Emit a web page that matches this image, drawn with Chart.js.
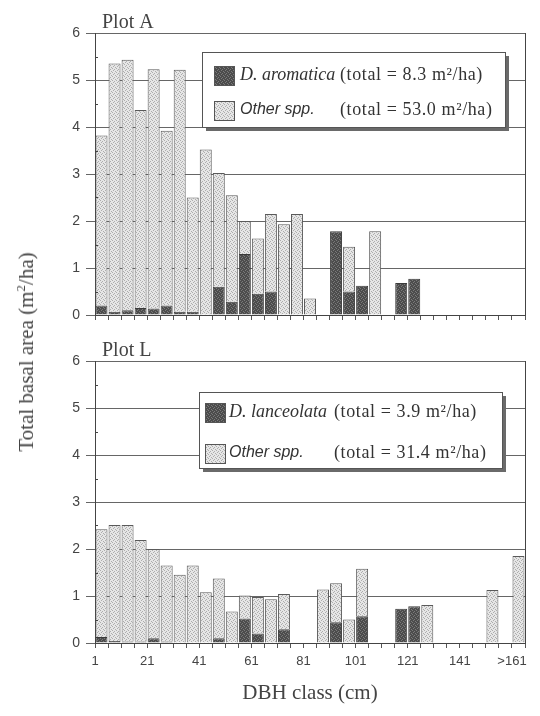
<!DOCTYPE html>
<html>
<head>
<meta charset="utf-8">
<script src="https://cdn.jsdelivr.net/npm/chart.js@4.4.1/dist/chart.umd.min.js"></script>
<style>
  html, body { margin: 0; padding: 0; background: #fff; }
  #wrap { position: relative; width: 540px; height: 716px; overflow: hidden; }
  #plotA { position: absolute; left: 0; top: 0; }
  #plotL { position: absolute; left: 0; top: 330px; }
  #ytitle {
    position: absolute; left: 26px; top: 352px;
    transform: translate(-50%, -50%) rotate(-90deg);
    font: 21px 'Liberation Serif', serif; color: #444; white-space: nowrap;
  }
  #ytitle sup { font-size: 13px; }
</style>
</head>
<body>
<div id="wrap">
  <canvas id="plotA" width="540" height="330"></canvas>
  <canvas id="plotL" width="540" height="386"></canvas>
  <div id="ytitle">Total basal area (m<sup>2</sup>/ha)</div>
</div>
<script>
'use strict';

// ── Data ─────────────────────────────────────────────────────
const classes = ['1', '6', '11', '16', '21', '26', '31', '36', '41', '46', '51',
  '56', '61', '66', '71', '76', '81', '86', '91', '96', '101', '106', '111',
  '116', '121', '126', '131', '136', '141', '146', '151', '156', '>161'];
const tickLabels = ['1', '21', '41', '61', '81', '101', '121', '141', '>161'];

// Plot A
const aromatica = [0.2, 0.07, 0.1, 0.15, 0.14, 0.2, 0.07, 0.07, 0, 0.6, 0.28,
  1.3, 0.45, 0.5, 0, 0, 0, 0, 1.78, 0.5, 0.62, 0, 0,
  0.68, 0.77, 0, 0, 0, 0, 0, 0, 0, 0];
const otherA = [3.62, 5.28, 5.33, 4.21, 5.09, 3.72, 5.15, 2.43, 3.52, 2.42, 2.27,
  0.7, 1.18, 1.65, 1.93, 2.15, 0.35, 0, 0, 0.95, 0, 1.78, 0,
  0, 0, 0, 0, 0, 0, 0, 0, 0, 0];
const totalsA = ['(total = 8.3 m\u00b2/ha)', '(total = 53.0 m\u00b2/ha)'];

// Plot L
const lanceolata = [0.13, 0.04, 0.03, 0.03, 0.1, 0.03, 0, 0, 0, 0.1, 0,
  0.52, 0.2, 0, 0.29, 0, 0, 0, 0.44, 0, 0.57, 0, 0,
  0.73, 0.78, 0, 0, 0, 0, 0, 0, 0, 0];
const otherL = [2.29, 2.47, 2.48, 2.16, 1.9, 1.62, 1.45, 1.65, 1.08, 1.27, 0.67,
  0.49, 0.78, 0.93, 0.75, 0, 0, 1.14, 0.83, 0.5, 1.01, 0, 0,
  0, 0, 0.81, 0, 0, 0, 0, 1.13, 0, 1.85];
const totalsL = ['(total = 3.9 m\u00b2/ha)', '(total = 31.4 m\u00b2/ha)'];

// ── Stipple fills (scanned halftone look) ────────────────────
function stipple(base, dot) {
  const c = document.createElement('canvas');
  c.width = 4; c.height = 4;
  const g = c.getContext('2d');
  g.fillStyle = base;
  g.fillRect(0, 0, 4, 4);
  g.fillStyle = dot;
  [[0, 0], [2, 1], [1, 2], [3, 3]].forEach(([x, y]) => g.fillRect(x, y, 1, 1));
  return g.createPattern(c, 'repeat');
}
const darkFill  = stipple('#4c4c4c', '#7a7a7a');
const lightFill = stipple('#e6e6e6', '#adadad');

const INK = '#444';

// ── Frame, minor ticks, plot title, legend box ───────────────
const decorations = {
  id: 'decorations',
  afterDraw(chart, args, o) {
    const { ctx, chartArea: a, scales: { y } } = chart;
    ctx.save();
    ctx.strokeStyle = INK;
    ctx.lineWidth = 1;

    ctx.beginPath();
    ctx.moveTo(a.right + 0.5, a.top);
    ctx.lineTo(a.right + 0.5, a.bottom);
    for (let i = 0; i < 6; i++) {
      const py = Math.round(y.getPixelForValue(i + 0.5)) + 0.5;
      ctx.moveTo(a.left, py);
      ctx.lineTo(a.left + 3, py);
    }
    ctx.stroke();

    ctx.fillStyle = INK;
    ctx.font = '20px "Liberation Serif"';
    ctx.textBaseline = 'alphabetic';
    ctx.fillText(o.title, a.left + 7, a.top - 5);

    const L = o.box;
    ctx.fillStyle = '#6a6a6a';
    ctx.fillRect(L.x + 4, L.y + 4, L.w, L.h);
    ctx.fillStyle = '#fff';
    ctx.fillRect(L.x, L.y, L.w, L.h);
    ctx.strokeStyle = '#555';
    ctx.strokeRect(L.x + 0.5, L.y + 0.5, L.w, L.h);

    ctx.textBaseline = 'middle';
    chart.data.datasets.forEach((ds, i) => {
      const cy = L.rows[i];
      ctx.fillStyle = ds.backgroundColor;
      ctx.fillRect(L.swX, cy - 9, 20, 19);
      ctx.strokeRect(L.swX + 0.5, cy - 8.5, 20, 19);
      ctx.fillStyle = '#333';
      ctx.letterSpacing = '0px';
      ctx.font = i === 0 ? 'italic 18px "Liberation Serif"' : 'italic 16px "Liberation Sans"';
      ctx.fillText(ds.label, L.textX, cy);
      ctx.font = '18px "Liberation Serif"';
      ctx.letterSpacing = '0.6px';
      ctx.fillText(o.totals[i], L.totalX, cy);
    });
    ctx.restore();
  }
};

// ── Chart builder ────────────────────────────────────────────
function makePlot(id, darkName, dark, other, cfg) {
  return new Chart(document.getElementById(id), {
    type: 'bar',
    data: {
      labels: classes,
      datasets: [
        { label: darkName, data: dark.map(v => v || null),
          backgroundColor: darkFill, borderColor: '#3a3a3a', borderWidth: 1 },
        { label: 'Other spp.', data: other.map(v => v || null),
          backgroundColor: lightFill, borderColor: '#5a5a5a', borderWidth: 1 }
      ]
    },
    options: {
      responsive: false,
      animation: false,
      layout: { padding: { top: cfg.padTop, right: 15, left: 0, bottom: 0 } },
      datasets: { bar: { categoryPercentage: 1, barPercentage: 0.92 } },
      plugins: {
        legend: { display: false },
        tooltip: { enabled: false },
        decorations: { title: cfg.title, box: cfg.box, totals: cfg.totals }
      },
      scales: {
        x: {
          stacked: true,
          offset: true,
          grid: { offset: true, drawOnChartArea: false, tickLength: 5, color: '#555' },
          border: { color: INK, width: 1 },
          ticks: {
            autoSkip: false, maxRotation: 0, padding: 6, labelOffset: -6.5,
            color: INK, font: { family: 'Liberation Sans', size: 13 },
            callback: (v, i) => (cfg.showLabels && tickLabels.includes(classes[i])) ? classes[i] : ''
          },
          title: {
            display: cfg.showLabels, text: 'DBH class (cm)', color: INK,
            font: { family: 'Liberation Serif', size: 21 }, padding: { top: 4, bottom: 10 }
          },
          afterFit: s => { s.height = cfg.xHeight; }
        },
        y: {
          stacked: true,
          min: 0, max: 6,
          grid: { color: '#666', tickLength: 9 },
          border: { color: INK, width: 1 },
          ticks: { stepSize: 1, padding: 6, color: INK, font: { family: 'Liberation Sans', size: 14 } },
          afterFit: s => { s.width = 95; }
        }
      }
    },
    plugins: [decorations]
  });
}

makePlot('plotA', 'D. aromatica', aromatica, otherA, {
  title: 'Plot A', padTop: 33, xHeight: 15, showLabels: false, totals: totalsA,
  box: { x: 202, y: 52, w: 303, h: 75, rows: [75, 110], swX: 214, textX: 240, totalX: 340 }
});

makePlot('plotL', 'D. lanceolata', lanceolata, otherL, {
  title: 'Plot L', padTop: 31, xHeight: 73, showLabels: true, totals: totalsL,
  box: { x: 199, y: 62, w: 303, h: 76, rows: [82, 123], swX: 205, textX: 229, totalX: 334 }
});
</script>
</body>
</html>
